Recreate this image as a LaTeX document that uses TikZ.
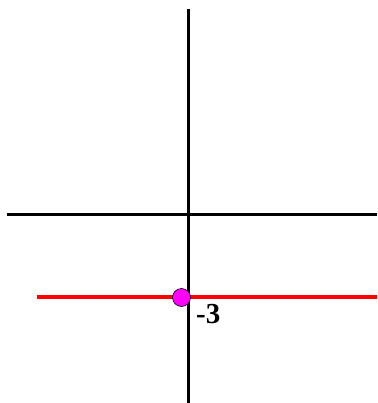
\documentclass[tikz,border=0pt]{standalone}
\usepackage{fontspec}
\setmainfont{Liberation Serif}
\definecolor{dotmag}{RGB}{255,0,255}
\definecolor{linered}{RGB}{255,0,0}
\begin{document}
\begin{tikzpicture}[x=1pt,y=-1pt,
  axis/.style={line width=3pt,black},
  redline/.style={line width=3.5pt,linered},
  dot/.style={circle,draw=black,line width=0.6pt,fill=dotmag,minimum size=18pt,inner sep=0pt},
  lbl/.style={font=\bfseries\fontsize{29}{32}\selectfont,inner sep=0pt,anchor=base west}]
\useasboundingbox (0,0) rectangle (377,403);
\coordinate (vt) at (188.5,9);
\coordinate (vb) at (188.5,403);
\coordinate (hl) at (7,214);
\coordinate (hr) at (377,214);
\coordinate (rl) at (37,297);
\coordinate (rr) at (377,297);
\draw[axis] (vt) -- (vb);
\draw[axis] (hl) -- (hr);
\draw[redline] (rl) -- (rr);
\node[dot] (p) at (181.5,297.5) {};
\node[lbl] (t) at (196,323) {-3};
\end{tikzpicture}
\end{document}
